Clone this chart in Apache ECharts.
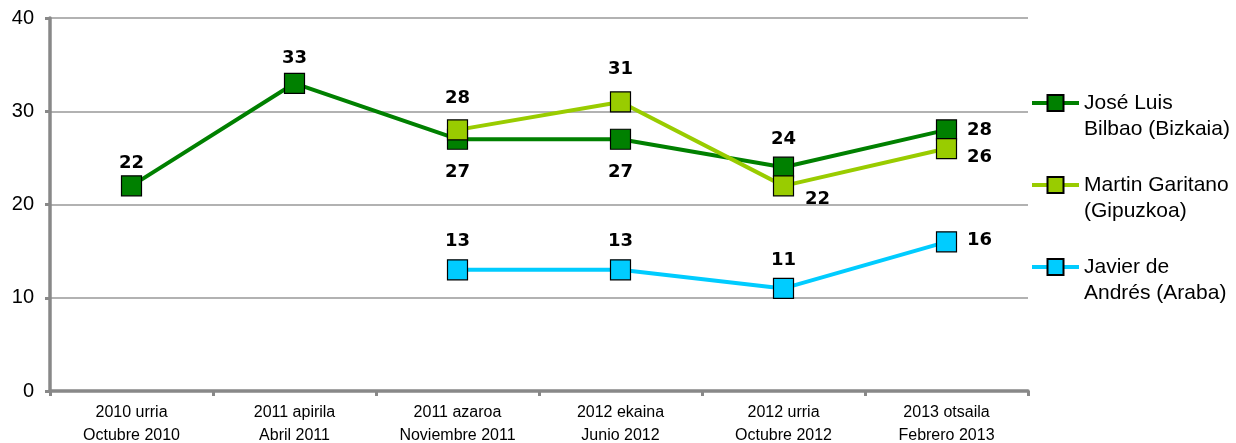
<!DOCTYPE html>
<html>
<head>
<meta charset="utf-8">
<script src="https://cdn.jsdelivr.net/npm/echarts@6/dist/echarts.min.js"></script>
<style>
html,body{margin:0;padding:0;background:#fff;}
#main{width:1236px;height:443px;}
</style>
</head>
<body>
<div id="main"></div>
<script>
var categories=["2010 urria\nOctubre 2010","2011 apirila\nAbril 2011","2011 azaroa\nNoviembre 2011","2012 ekaina\nJunio 2012","2012 urria\nOctubre 2012","2013 otsaila\nFebrero 2013"];
var names=["José Luis\nBilbao (Bizkaia)","Martin Garitano\n(Gipuzkoa)","Javier de\nAndrés (Araba)"];
var bilbao=[22,33,27,27,24,28];
var garitano=[null,null,28,31,22,26];
var deandres=[null,null,13,13,11,16];
var yTicks=[0,10,20,30,40];

var colors=["#008000","#99CC00","#00CCFF"];
// label placement per series / point: [position, distance, dy]
var labelPos=[
	[["top",3,0],["top",5,0],["bottom",14,0],["bottom",14,0],["top",8,0],["right",10,0]],
	[null,null,["top",12,0],["top",13,0],["right",11,13],["right",10,9]],
	[null,null,["top",9,0],["top",9,0],["top",8,0],["right",10,-1]]
];

function mkData(vals,si){
	return vals.map(function(v,i){
		if(v==null) return null;
		var p=labelPos[si][i];
		return {value:v,label:{position:p[0],distance:p[1],offset:[0,p[2]]}};
	});
}

var seriesVals=[bilbao,garitano,deandres];
var series=seriesVals.map(function(vals,si){
	return {
		name:names[si],
		type:"line",
		data:mkData(vals,si),
		z:10-si,
		symbol:"rect",
		symbolSize:20,
		lineStyle:{color:colors[si],width:4},
		itemStyle:{color:colors[si],borderColor:"#000",borderWidth:1.2},
		label:{show:true,color:"#000",fontFamily:"DejaVu Sans",fontWeight:"bold",fontSize:18},
		emphasis:{disabled:true}
	};
});
series[1].z=11;

var myChart=echarts.init(document.getElementById("main"));
var option={
	animation:false,
	textStyle:{fontFamily:"Arial, Liberation Sans"},
	grid:{left:50,right:208,top:18,bottom:52,outerBoundsMode:"none"},
	legend:{
		orient:"vertical",
		left:1030,
		top:64,
		padding:0,
		itemWidth:47,
		itemHeight:20,
		itemGap:4,
		data:names,
		lineStyle:{width:4},
		formatter:function(name){return " \n"+name;},
		textStyle:{fontSize:21,color:"#000",lineHeight:26,fontFamily:"Arial, Liberation Sans"}
	},
	xAxis:{
		type:"category",
		data:categories,
		boundaryGap:true,
		axisLine:{lineStyle:{color:"#888",width:3.5}},
		axisTick:{show:true,length:5,lineStyle:{color:"#888",width:3}},
		axisLabel:{fontSize:16,color:"#000",lineHeight:23,margin:10,interval:0}
	},
	yAxis:{
		type:"value",
		min:yTicks[0],
		max:yTicks[yTicks.length-1],
		interval:10,
		axisLine:{show:true,lineStyle:{color:"#888",width:3.5}},
		axisTick:{show:true,length:5,lineStyle:{color:"#888",width:3}},
		axisLabel:{fontSize:20,color:"#000",margin:16},
		splitLine:{lineStyle:{color:"#999",width:1.5}}
	},
	series:series
};
myChart.setOption(option);
</script>
</body>
</html>
